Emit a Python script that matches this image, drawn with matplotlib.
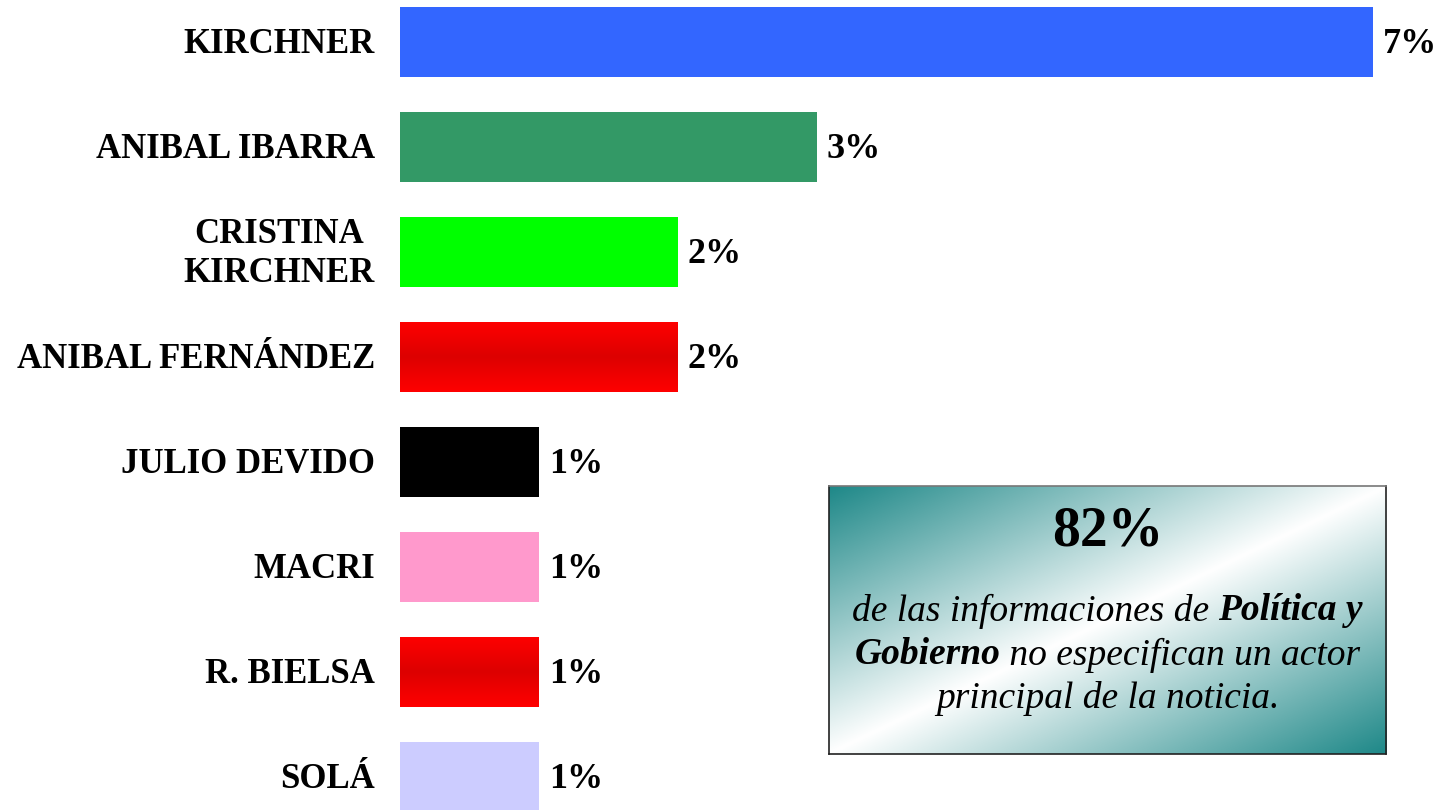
import numpy as np
import matplotlib
matplotlib.use('Agg')
import matplotlib.pyplot as plt
from matplotlib.colors import LinearSegmentedColormap
from matplotlib.transforms import IdentityTransform

plt.rcParams['font.family'] = ['Liberation Serif', 'DejaVu Serif']

# data
actores = ['KIRCHNER', 'ANIBAL IBARRA', 'CRISTINA\nKIRCHNER', 'ANIBAL FERNÁNDEZ',
           'JULIO DEVIDO', 'MACRI', 'R. BIELSA', 'SOLÁ']
valores = [7, 3, 2, 2, 1, 1, 1, 1]
etiquetas = ['7%', '3%', '2%', '2%', '1%', '1%', '1%', '1%']
colores = ['#3366FF', '#339966', '#00FF00', '#FF0000', '#000000', '#FF99CC', '#FF0000', '#CCCCFF']
degradado = [False, False, False, True, False, False, True, False]

recuadro_pct = '82%'
recuadro_lineas = [
    [('de las informaciones de ', 'normal'), ('Política y', 'bold')],
    [('Gobierno', 'bold'), (' no especifican un actor', 'normal')],
    [('principal de la noticia.', 'normal')],
]

W, H = 1438, 810
fig = plt.figure(figsize=(W / 100, H / 100), dpi=100)
ax = fig.add_axes([400 / W, 0, 1 - 400 / W, 1])

y = np.arange(len(actores))
bars = ax.barh(y, valores, height=0.667, color=colores)
ax.axis('off')

# red bars with a vertical gradient (light - dark - light)
cmap_rojo = LinearSegmentedColormap.from_list('rojo', ['#FF0000', '#DD0000', '#FF0000'])
grad = np.linspace(0, 1, 256).reshape(-1, 1)
for b, g in zip(bars, degradado):
    if g:
        x0, y0 = b.get_x(), b.get_y()
        im = ax.imshow(grad, cmap=cmap_rojo, aspect='auto',
                       extent=[x0, x0 + b.get_width(), y0 + b.get_height(), y0],
                       zorder=3)
        im.set_clip_path(b)
ax.set_xlim(0, 1038 / 139)
ax.set_ylim((H - 42) / 105, -42 / 105)

for b, lab in zip(bars, etiquetas):
    ax.annotate(lab, (b.get_width(), b.get_y() + b.get_height() / 2),
                xytext=(7, -1.5), textcoords='offset points', ha='left', va='center',
                fontsize=26, fontweight='bold')

for yi, name in zip(y, actores):
    ax.annotate(name, (0, yi), xytext=(-18, -1.5), textcoords='offset points',
                ha='right', va='center', multialignment='center',
                fontsize=25, fontweight='bold', linespacing=1.25, annotation_clip=False)

# text box with diagonal teal gradient
bx0, by0, bx1, by1 = 829, 486, 1386, 754
bax = fig.add_axes([bx0 / W, (H - by1) / H, (bx1 - bx0) / W, (by1 - by0) / H])
nx, ny = 400, 200
u = np.linspace(0, 1, nx)[None, :]
v = np.linspace(0, 1, ny)[:, None]
t = np.abs((u + v) / 2 - 0.5) * 2
t = np.clip(t, 0, 1)
teal = np.array([0x1E, 0x88, 0x88]) / 255
img = (1 - t[..., None]) * np.ones(3) + t[..., None] * teal
bax.imshow(img, aspect='auto', extent=[0, 1, 0, 1])
bax.set_xticks([])
bax.set_yticks([])
for s in bax.spines.values():
    s.set_color('#222222')
    s.set_linewidth(1.2)
bax.spines['top'].set_color('#777777')

cx = (bx0 + bx1) / 2
fig.text(cx / W, 1 - 532 / H, recuadro_pct, ha='center', va='center',
         fontsize=40, fontweight='bold')

renderer = fig.canvas.get_renderer()
line_y = [611, 655, 698]
for ly, partes in zip(line_y, recuadro_lineas):
    textos = []
    for txt, w in partes:
        tt = fig.text(0, 0, txt, fontsize=27, style='italic', fontweight=w,
                      ha='left', va='center', transform=IdentityTransform())
        textos.append(tt)
    anchos = [tt.get_window_extent(renderer).width for tt in textos]
    x = cx - sum(anchos) / 2
    for tt, a in zip(textos, anchos):
        tt.set_position((x, H - ly))
        x += a

fig.savefig('out.png', dpi=100)
